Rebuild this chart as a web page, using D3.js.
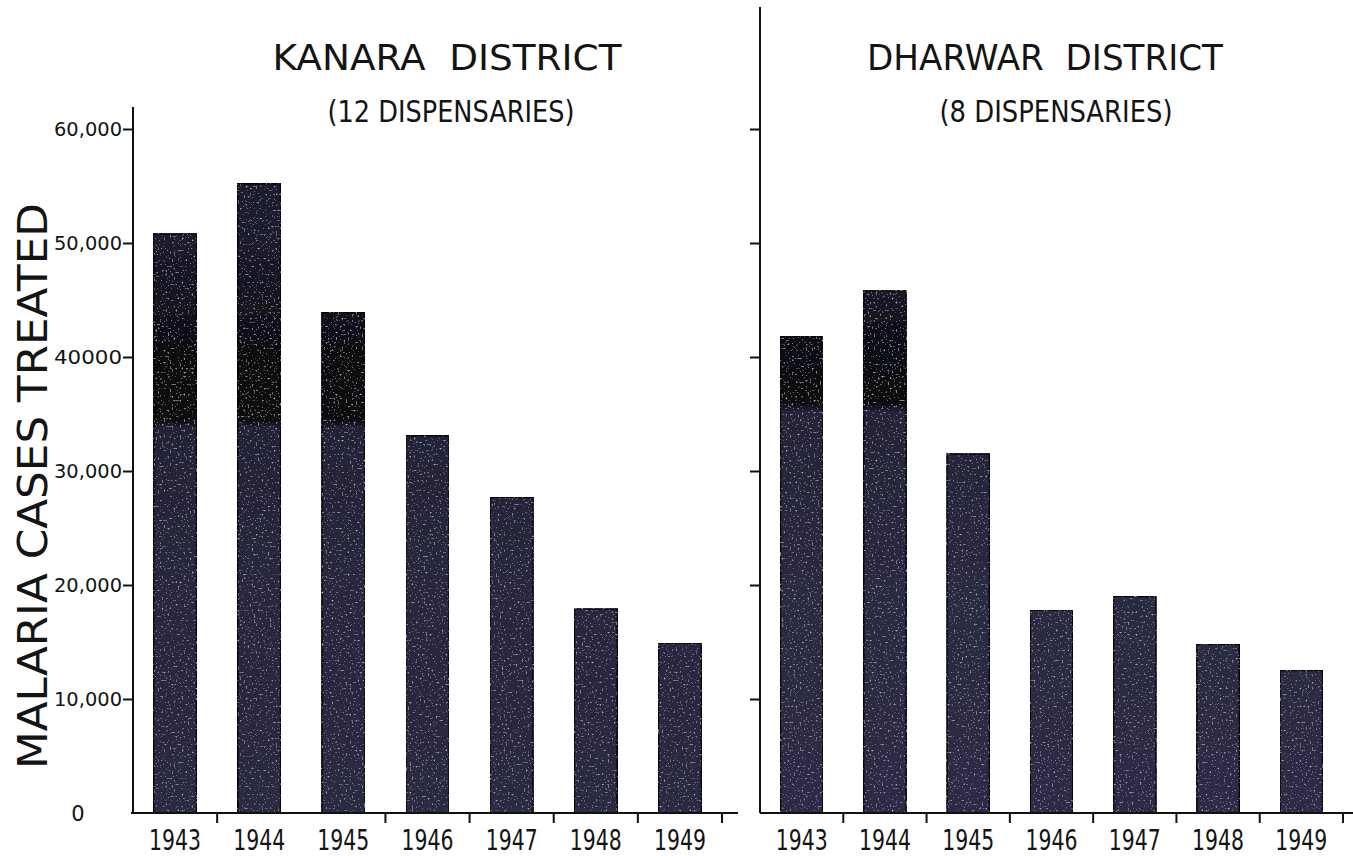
<!DOCTYPE html>
<html>
<head>
<meta charset="utf-8">
<script src="https://cdn.jsdelivr.net/npm/d3@7"></script>
<style>
  html, body { margin: 0; padding: 0; background: #ffffff; }
  svg { display: block; }
  text { font-family: "DejaVu Sans", "Liberation Sans", sans-serif; fill: #141414; }
</style>
</head>
<body>
<svg id="chart" width="1353" height="856"></svg>
<script>
// ---- data ----
const years = ["1943", "1944", "1945", "1946", "1947", "1948", "1949"];
const kanaraCases = [50800, 55200, 43900, 33100, 27700, 17900, 14900];
const dharwarCases = [41800, 45800, 31500, 17800, 19000, 14800, 12500];
const yTickValues = [0, 10000, 20000, 30000, 40000, 50000, 60000];
const yTickLabels = ["0", "10,000", "20,000", "30,000", "40000", "50,000", "60,000"];
const panelTitles = ["KANARA  DISTRICT", "DHARWAR  DISTRICT"];
const panelSubtitles = ["(12 DISPENSARIES)", "(8 DISPENSARIES)"];
const yAxisTitle = "MALARIA CASES TREATED";

// ---- layout ----
const svg = d3.select("#chart");
const y = d3.scaleLinear().domain([0, 60000]).range([813, 129]);

const panels = [
  { values: kanaraCases, range: [133, 722], axisX: 133, axisTop: 107, base: [131, 738],
    title: panelTitles[0], sub: panelSubtitles[0], titleX: 447, titleW: 349, subX: 451, subW: 247,
    labels: true, skipTick: 1, grad: "gradL" },
  { values: dharwarCases, range: [760, 1343], axisX: 760, axisTop: 7, base: [760, 1353],
    title: panelTitles[1], sub: panelSubtitles[1], titleX: 1045, titleW: 356, subX: 1056, subW: 233,
    labels: false, skipTick: -1, grad: "gradR" }
];

// gradients (dark band in upper part of tall bars)
const defs = svg.append("defs");
function addGrad(id, stops) {
  const g = defs.append("linearGradient").attr("id", id)
    .attr("gradientUnits", "userSpaceOnUse")
    .attr("x1", 0).attr("x2", 0).attr("y1", y(60000)).attr("y2", y(0));
  stops.forEach(([v, c]) => {
    g.append("stop").attr("offset", (y(v) - y(60000)) / (y(0) - y(60000))).attr("stop-color", c);
  });
}
addGrad("gradL", [[60000, "#191827"], [52000, "#1f1e30"], [42000, "#100f19"], [40500, "#08070d"],
  [34500, "#09080e"], [33800, "#232136"], [30000, "#252338"], [20000, "#29273e"], [0, "#2b2941"]]);
addGrad("gradR", [[60000, "#191827"], [46000, "#1c1b2c"], [41500, "#0d0c14"], [36000, "#09080f"],
  [35200, "#252338"], [20000, "#2b2940"], [0, "#2e2c45"]]);

// faint speckle texture
const filt = defs.append("filter").attr("id", "speckle").attr("x", 0).attr("y", 0).attr("width", 1).attr("height", 1);
filt.append("feTurbulence").attr("type", "fractalNoise").attr("baseFrequency", 0.5).attr("numOctaves", 2).attr("seed", 11).attr("result", "noise");
filt.append("feColorMatrix").attr("in", "noise").attr("type", "matrix")
  .attr("values", "0 0 0 0 0.5  0 0 0 0 0.5  0 0 0 0 0.65  0 0 0 -4 1.45").attr("result", "spots");
filt.append("feComposite").attr("in", "spots").attr("in2", "SourceGraphic").attr("operator", "in").attr("result", "clipped");
filt.append("feMerge").selectAll("feMergeNode").data(["SourceGraphic", "clipped"]).join("feMergeNode").attr("in", d => d);

panels.forEach(p => {
  const x = d3.scaleBand().domain(years).range(p.range).paddingInner(0).paddingOuter(0);
  const step = x.step();
  const barW = step * 0.51;
  const g = svg.append("g");

  // bars
  g.selectAll("rect.bar").data(years).join("rect")
    .attr("class", "bar")
    .attr("x", d => x(d) + (step - barW) / 2)
    .attr("width", barW)
    .attr("y", (d, i) => y(p.values[i]))
    .attr("height", (d, i) => y(0) - y(p.values[i]))
    .attr("fill", `url(#${p.grad})`)
    .attr("stroke", "#07060b").attr("stroke-width", 1.5)
    .attr("filter", "url(#speckle)");

  // y axis line
  g.append("line").attr("x1", p.axisX).attr("x2", p.axisX)
    .attr("y1", p.axisTop).attr("y2", y(0))
    .attr("stroke", "#111").attr("stroke-width", 2);

  // y ticks
  const yAxis = d3.axisLeft(y)
    .tickValues(yTickValues.slice(1))
    .tickSize(10).tickPadding(1)
    .tickFormat(v => p.labels ? yTickLabels[yTickValues.indexOf(v)] : "");
  const ya = g.append("g").attr("transform", `translate(${p.axisX},0)`).call(yAxis);
  ya.attr("font-size", null).attr("font-family", null);
  ya.select(".domain").remove();
  ya.selectAll(".tick line").attr("stroke", "#111").attr("stroke-width", 2);
  ya.selectAll(".tick text")
    .style("font-size", "19px")
    .attr("dy", "0.36em")
    .attr("textLength", d => p.labels ? 68 : null)
    .attr("lengthAdjust", "spacingAndGlyphs")
    .style("font-family", "'DejaVu Sans', sans-serif")
    .attr("fill", "#141414");
  if (p.labels) {
    g.append("text").attr("x", 78).attr("y", y(0)).attr("dy", "0.36em")
      .attr("text-anchor", "middle").style("font-size", "21px").text(yTickLabels[0]);
  }

  // baseline
  g.append("line").attr("x1", p.base[0]).attr("x2", p.base[1])
    .attr("y1", y(0)).attr("y2", y(0))
    .attr("stroke", "#111").attr("stroke-width", 2);

  // boundary ticks below baseline
  g.selectAll("line.btick").data(years.filter((d, i) => i !== p.skipTick)).join("line")
    .attr("class", "btick")
    .attr("x1", d => x(d) + step).attr("x2", d => x(d) + step)
    .attr("y1", y(0)).attr("y2", y(0) + 10)
    .attr("stroke", "#111").attr("stroke-width", 2);

  // year labels via bottom axis
  const xAxis = d3.axisBottom(x).tickSize(0).tickPadding(0);
  const xa = g.append("g").attr("transform", `translate(0,${y(0)})`).call(xAxis);
  xa.attr("font-size", null).attr("font-family", null);
  xa.select(".domain").remove();
  xa.selectAll(".tick text")
    .attr("y", 37).attr("dy", 0)
    .style("font-size", "29px")
    .attr("textLength", 52).attr("lengthAdjust", "spacingAndGlyphs")
    .style("font-family", "'DejaVu Sans', sans-serif")
    .attr("fill", "#141414");

  // titles
  g.append("text").attr("x", p.titleX).attr("y", 70)
    .attr("text-anchor", "middle").style("font-size", "36px")
    .style("white-space", "pre")
    .attr("textLength", p.titleW).attr("lengthAdjust", "spacingAndGlyphs")
    .text(p.title);
  g.append("text").attr("x", p.subX).attr("y", 122)
    .attr("text-anchor", "middle").style("font-size", "30px")
    .attr("textLength", p.subW).attr("lengthAdjust", "spacingAndGlyphs")
    .text(p.sub);
});

// y axis title
svg.append("text")
  .attr("transform", "translate(47,486) rotate(-90)")
  .attr("text-anchor", "middle")
  .style("font-size", "41px")
  .attr("textLength", 566).attr("lengthAdjust", "spacingAndGlyphs")
  .text(yAxisTitle);
</script>
</body>
</html>
